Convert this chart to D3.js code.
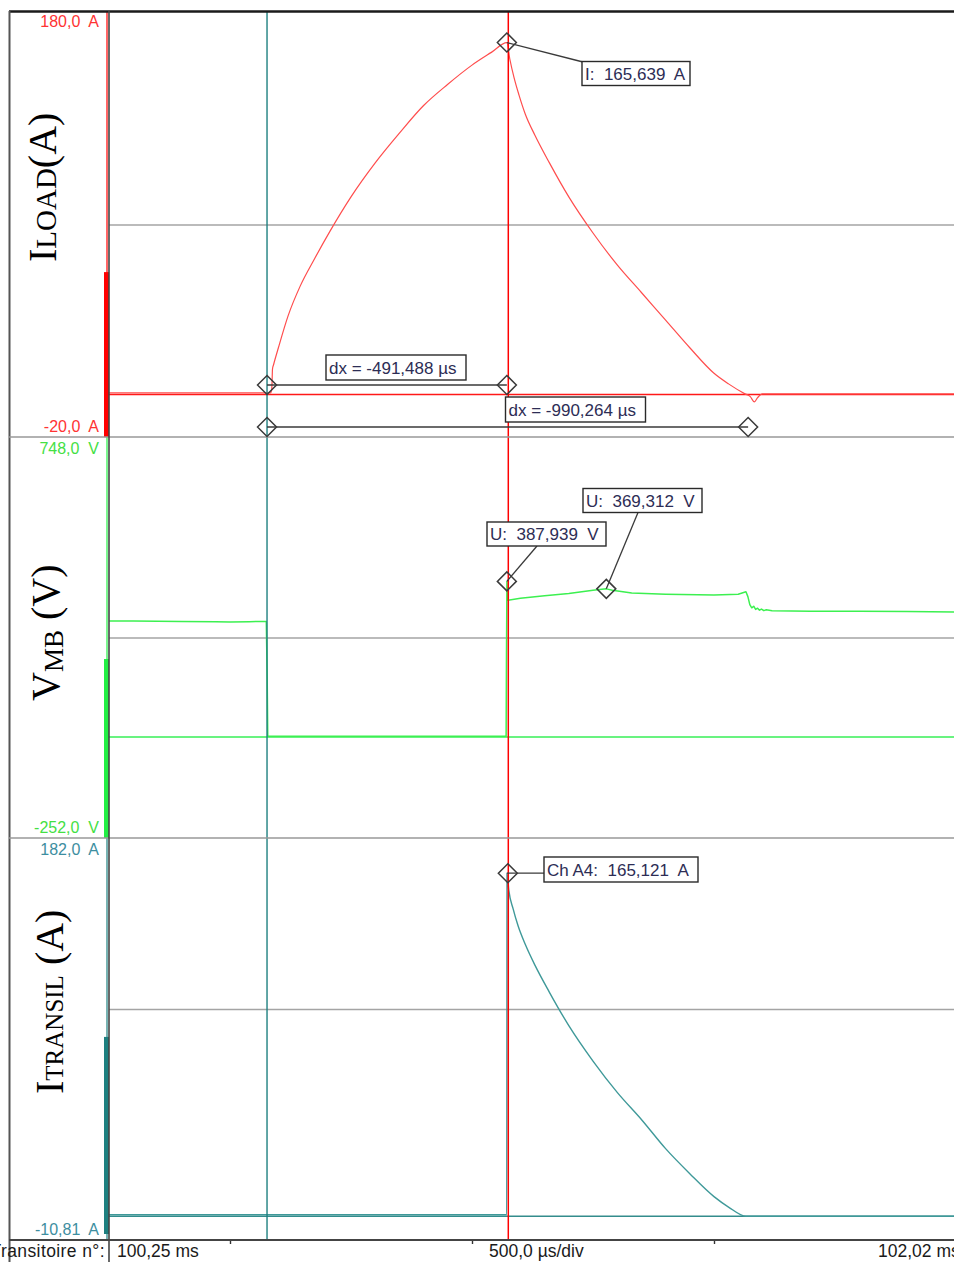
<!DOCTYPE html>
<html><head><meta charset="utf-8">
<script src="https://cdn.jsdelivr.net/npm/d3@7"></script>
<style>
body{margin:0;background:#fff}
svg{display:block}
text{font-family:"Liberation Sans",Arial,sans-serif;white-space:pre}
.title{font-family:"Liberation Serif","Times New Roman",serif;fill:#000}
</style></head>
<body><svg id="c" width="954" height="1262"></svg>
<script>
// ---------------- DATA ----------------
const timeDomain = [100.25, 102.02];          // ms
const timeGrid = [100.5, 101.0, 101.5, 102.0];
const timeTicks = [100.5, 101.0, 101.5];
const bottomLabels = ["Transitoire n°:", "100,25 ms", "500,0 µs/div", "102,02 ms"];

const iLoadRange = [-20, 180];
const vMbRange = [-252, 748];
const iTransRange = [-10.81, 182];
const rangeLabels = [["180,0  A", "-20,0  A"], ["748,0  V", "-252,0  V"], ["182,0  A", "-10,81  A"]];
const hGridValues = [80, 248, 100];
const zeroLevels = [0, 0, 0.6];
const indicatorTop = [57.6, 194.3, 86.6];

// cursors (ms)
const cursorTimes = [100.5765, 101.075];
const markerTimes = [100.5765, 101.072, 101.5705, 101.2775];

// I_LOAD (A)
const iLoadTime = [100.25,100.40,100.584,100.586,100.5868,100.5878,100.59,100.60,100.62,100.645,100.675,100.707,100.75,100.80,100.85,100.90,100.95,101.00,101.04,101.072,101.078,101.087,101.097,101.11,101.13,101.16,101.20,101.25,101.30,101.35,101.40,101.45,101.50,101.53,101.564,101.575,101.5835,101.59,101.60,102.02];
const iLoadAmp  = [0.8,0.8,0.8,2,5,12,14,22,37,51,64,77,93,109,123,136,146,155,161,165.6,158,149,141,132,122,109,93,76,61,48,35,22,10,5,0.3,-1,-3.5,-1.5,0.3,0.3];

// V_MB (V)
const vMbTime = [100.25,100.30,100.40,100.47,100.50,100.54,100.575,100.5768,100.578,100.70,100.90,101.00,101.0705,101.0712,101.0722,101.074,101.10,101.15,101.20,101.25,101.2775,101.29,101.33,101.40,101.50,101.55,101.566,101.570,101.574,101.578,101.582,101.586,101.590,101.594,101.598,101.603,101.608,101.62,101.70,101.80,101.90,102.02];
const vMbVolt = [289,289,288,287,286.5,287.5,288,150,1.5,1.5,1.5,1.5,2,200,387.9,341,346,352,358,366,369.3,366,359,356,354,356,362,350,330,322,326,318,321,316,319,315,317,315,313.5,313.5,313,311];

// I_TRANSIL (A)
const iTransTime = [100.25,100.60,101.00,101.0718,101.0724,101.076,101.085,101.095,101.11,101.13,101.16,101.20,101.25,101.30,101.35,101.40,101.45,101.50,101.53,101.566,102.02];
const iTransAmp  = [1.3,1.3,1.3,1.3,165.1,157,148,140,131,121,108,92,75,60,47,33,21,10,5,0.6,0.6];

// annotations
const annPeakI = 165.639, annU1 = 387.939, annU2 = 369.312, annChA4 = 165.121;
const annTexts = ["I:  165,639  A", "dx = -491,488 µs", "dx = -990,264 µs", "U:  387,939  V", "U:  369,312  V", "Ch A4:  165,121  A"];

// ---------------- LAYOUT ----------------
const W = 954, H = 1262;
const plotL = 109, plotR = 954;
const panels = [[12, 437], [437, 838], [838, 1240]];
const colors = {
  red: "#ff0000", redSig: "#ff4d4d", redTxt: "#ff3333",
  green: "#22ee44", greenSig: "#3cf050", greenTxt: "#44e044",
  teal: "#1e8080", tealSig: "#3f9999", tealTxt: "#3d8ea0",
  grid: "#a4a4a4", frame: "#333", ann: "#3a3a3a", annTxt: "#2d2d55"
};

const svg = d3.select("#c");
const x = d3.scaleLinear().domain(timeDomain).range([plotL, plotL + (timeDomain[1] - timeDomain[0]) * 484]);
const yI = d3.scaleLinear().domain(iLoadRange).range([panels[0][1], panels[0][0]]);
const yV = d3.scaleLinear().domain(vMbRange).range([panels[1][1], panels[1][0]]);
const yT = d3.scaleLinear().domain(iTransRange).range([panels[2][1], panels[2][0]]);
const yScales = [yI, yV, yT];

svg.append("rect").attr("width", W).attr("height", H).attr("fill", "#fff");

// clip
svg.append("clipPath").attr("id", "plot").append("rect")
  .attr("x", plotL).attr("y", panels[0][0]).attr("width", plotR - plotL).attr("height", panels[2][1] - panels[0][0]);

// vertical grid via axis
const vg = svg.append("g").attr("transform", `translate(0,${panels[2][1]})`).attr("clip-path", "url(#plot)")
  .call(d3.axisBottom(x).tickValues(timeGrid).tickSize(-(panels[2][1] - panels[0][0])).tickFormat(""));
vg.select(".domain").remove();
vg.selectAll("line").attr("stroke", colors.grid).attr("stroke-width", 1.5);

// horizontal grid via axes
yScales.forEach((ys, i) => {
  const g = svg.append("g").attr("transform", `translate(${plotL},0)`)
    .call(d3.axisLeft(ys).tickValues([hGridValues[i]]).tickSize(-(plotR - plotL)).tickFormat(""));
  g.select(".domain").remove();
  g.selectAll("line").attr("stroke", colors.grid).attr("stroke-width", 1.5);
});

// zero lines
const zc = [colors.red, colors.green, colors.teal];
yScales.forEach((ys, i) => {
  svg.append("line").attr("x1", plotL).attr("x2", plotR)
    .attr("y1", ys(zeroLevels[i])).attr("y2", ys(zeroLevels[i]))
    .attr("stroke", zc[i]).attr("stroke-width", 1.4).attr("opacity", 0.9);
});

// signals
const sig = svg.append("g").attr("clip-path", "url(#plot)");
function drawSeries(ts, vs, ys, col, w, curve) {
  const pts = ts.map((t, i) => [t, vs[i]]);
  sig.append("path").datum(pts)
    .attr("d", d3.line().curve(curve).x(d => x(d[0])).y(d => ys(d[1])))
    .attr("fill", "none").attr("stroke", col).attr("stroke-width", w).attr("stroke-linejoin", "round");
}
drawSeries(iLoadTime, iLoadAmp, yI, colors.redSig, 1.2, d3.curveMonotoneX);
drawSeries(vMbTime, vMbVolt, yV, colors.greenSig, 1.5, d3.curveLinear);
drawSeries(iTransTime, iTransAmp, yT, colors.tealSig, 1.4, d3.curveMonotoneX);

// cursors
svg.append("line").attr("x1", x(cursorTimes[0])).attr("x2", x(cursorTimes[0]))
  .attr("y1", panels[0][0]).attr("y2", panels[2][1]).attr("stroke", colors.teal).attr("stroke-width", 1.4);
svg.append("line").attr("x1", x(cursorTimes[1])).attr("x2", x(cursorTimes[1]))
  .attr("y1", panels[0][0]).attr("y2", panels[2][1]).attr("stroke", colors.red).attr("stroke-width", 1.5);

// left channel indicators
const ic = [colors.red, colors.green, colors.teal];
yScales.forEach((ys, i) => {
  const d = ys.domain();
  svg.append("line").attr("x1", 107).attr("x2", 107).attr("y1", ys(d[1])).attr("y2", ys(d[0]))
    .attr("stroke", ic[i]).attr("stroke-width", 1.2);
  svg.append("rect").attr("x", 104).attr("width", 5)
    .attr("y", ys(indicatorTop[i])).attr("height", ys(d[0]) - ys(indicatorTop[i]) - (i === 2 ? 6 : 0))
    .attr("fill", ic[i]);
});

// frame & borders
svg.append("line").attr("x1", 9).attr("x2", W).attr("y1", 11.5).attr("y2", 11.5).attr("stroke", "#1a1a1a").attr("stroke-width", 2.5);
svg.append("line").attr("x1", 9.5).attr("x2", 9.5).attr("y1", 11).attr("y2", H).attr("stroke", "#555").attr("stroke-width", 2);
[panels[0][1], panels[1][1]].forEach(yy => {
  svg.append("line").attr("x1", 9).attr("x2", W).attr("y1", yy).attr("y2", yy).attr("stroke", "#999").attr("stroke-width", 1.6);
});
svg.append("line").attr("x1", plotL).attr("x2", plotL).attr("y1", 11).attr("y2", H).attr("stroke", "#444").attr("stroke-width", 1.6);

// bottom axis
const ax = svg.append("g").attr("transform", `translate(0,${panels[2][1]})`)
  .call(d3.axisBottom(x).tickValues(timeTicks).tickSize(4).tickFormat(""));
ax.select(".domain").remove();
ax.selectAll("line").attr("stroke", "#333").attr("stroke-width", 1.4);
svg.append("line").attr("x1", 9).attr("x2", W).attr("y1", panels[2][1]).attr("y2", panels[2][1]).attr("stroke", "#444").attr("stroke-width", 2);

const bt = svg.append("g").attr("font-size", 17.5).attr("fill", "#1a1a1a");
bt.append("text").attr("x", 105).attr("y", 1257).attr("text-anchor", "end").attr("letter-spacing", 0.4).text(bottomLabels[0]);
bt.append("text").attr("x", 117).attr("y", 1257).text(bottomLabels[1]);
bt.append("text").attr("x", 489).attr("y", 1257).text(bottomLabels[2]);
bt.append("text").attr("x", 878).attr("y", 1257).text(bottomLabels[3]);

// range labels
const lc = [colors.redTxt, colors.greenTxt, colors.tealTxt];
rangeLabels.forEach((pair, i) => {
  svg.append("text").attr("x", 99).attr("y", panels[i][0] + (i === 0 ? 15 : 17)).attr("text-anchor", "end")
    .attr("font-size", 16).attr("fill", lc[i]).text(pair[0]);
  svg.append("text").attr("x", 99).attr("y", panels[i][1] - 5).attr("text-anchor", "end")
    .attr("font-size", 16).attr("fill", lc[i]).text(pair[1]);
});

// titles
function title(tx, ty, parts) {
  const t = svg.append("text").attr("class", "title").attr("transform", `translate(${tx},${ty}) rotate(-90)`);
  parts.forEach(p => t.append("tspan").attr("font-size", p[1]).attr("dy", p[2] || 0).text(p[0]));
}
title(56, 262, [["I", 40], ["LOAD", 29], ["(A)", 40]]);
title(59, 701, [["V", 40], ["MB", 27, 4], [" (V)", 40, -4]]);
title(63, 1094, [["I", 40], ["TRANSIL", 25], [" (A)", 40]]);

// annotations
const A = svg.append("g");
function diamond(cx, cy) {
  A.append("path").attr("d", `M${cx},${cy - 9.5}L${cx + 9.5},${cy}L${cx},${cy + 9.5}L${cx - 9.5},${cy}Z`)
    .attr("fill", "none").attr("stroke", colors.ann).attr("stroke-width", 1.5);
}
function seg(x1, y1, x2, y2) {
  A.append("line").attr("x1", x1).attr("y1", y1).attr("x2", x2).attr("y2", y2)
    .attr("stroke", colors.ann).attr("stroke-width", 1.3);
}
function box(bx, by, bw, bh, txt) {
  A.append("rect").attr("x", bx).attr("y", by).attr("width", bw).attr("height", bh)
    .attr("fill", "#fff").attr("stroke", "#2a2a2a").attr("stroke-width", 1.4);
  A.append("text").attr("x", bx + 3).attr("y", by + bh - 6).attr("font-size", 17).attr("fill", colors.annTxt).text(txt);
}
const xa = x(markerTimes[0]), xp = x(markerTimes[1]), xc = x(markerTimes[2]), xu2 = x(markerTimes[3]);
// peak I
const pyI = yI(annPeakI);
seg(xp, pyI, 583, 62);
diamond(xp, pyI);
box(582, 61.5, 108, 24, annTexts[0]);
// dx rows
const row1 = panels[0][1] - 52, row2 = panels[0][1] - 10;
seg(xa, row1, xp, row1); diamond(xa, row1); diamond(xp, row1);
box(326, 355, 140, 25, annTexts[1]);
seg(xa, row2, xc, row2); diamond(xa, row2); diamond(xc, row2);
box(505.5, 397, 140, 25, annTexts[2]);
// U1, U2
const pyU1 = yV(annU1), pyU2 = yV(annU2);
seg(xp, pyU1, 537, 546); diamond(xp, pyU1);
box(487, 522, 119, 24, annTexts[3]);
seg(xu2, pyU2, 638, 512.5); diamond(xu2, pyU2);
box(583, 488.5, 119, 24, annTexts[4]);
// Ch A4
const pyC = yT(annChA4);
seg(xp, pyC, 545, pyC); diamond(xp + 1, pyC);
box(544, 857, 154, 25, annTexts[5]);
</script></body></html>
